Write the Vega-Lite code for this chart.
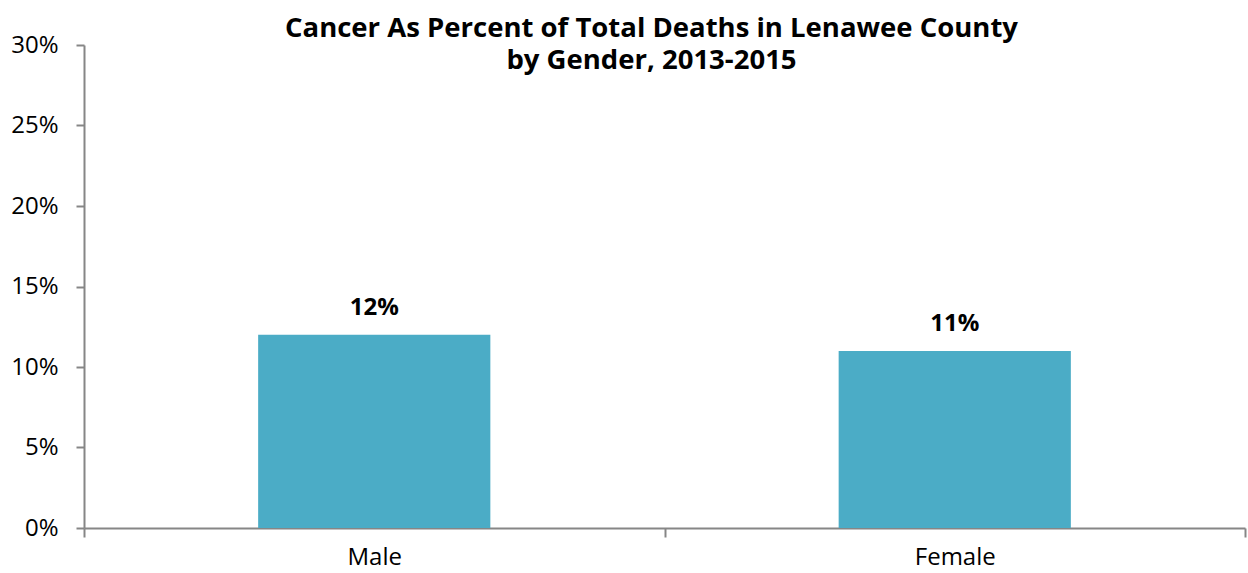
{
  "$schema": "https://vega.github.io/schema/vega-lite/v6.json",
  "width": 1161,
  "height": 483,
  "autosize": {"type": "none"},
  "padding": {"left": 84, "top": 45, "right": 3, "bottom": 45},
  "background": "white",
  "title": {
    "text": ["Cancer As Percent of Total Deaths in Lenawee County", "by Gender, 2013-2015"],
    "font": "Open Sans",
    "fontSize": 27.5,
    "fontWeight": "bold",
    "color": "#000000",
    "anchor": "middle",
    "dx": -13,
    "offset": -41,
    "lineHeight": 32
  },
  "data": {
    "values": [
      {"gender": "Male", "pct": 0.12},
      {"gender": "Female", "pct": 0.11}
    ]
  },
  "encoding": {
    "x": {
      "field": "gender",
      "type": "nominal",
      "sort": ["Male", "Female"],
      "scale": {"paddingInner": 0, "paddingOuter": 0},
      "axis": {
        "title": null,
        "labelAngle": 0,
        "labelFont": "Open Sans",
        "labelFontSize": 24,
        "labelColor": "#000000",
        "labelPadding": 8,
        "domainColor": "#868686",
        "domainWidth": 2,
        "tickColor": "#868686",
        "tickWidth": 2,
        "tickSize": 9,
        "tickBand": "extent"
      }
    },
    "y": {
      "field": "pct",
      "type": "quantitative",
      "scale": {"domain": [0, 0.3], "nice": false},
      "axis": {
        "title": null,
        "format": ".0%",
        "values": [0, 0.05, 0.1, 0.15, 0.2, 0.25, 0.3],
        "grid": false,
        "labelFont": "Open Sans",
        "labelFontSize": 24,
        "labelColor": "#000000",
        "labelPadding": 18,
        "domainColor": "#868686",
        "domainWidth": 2,
        "tickColor": "#868686",
        "tickWidth": 2,
        "tickSize": 8
      }
    }
  },
  "layer": [
    {"mark": {"type": "bar", "color": "#4BACC6", "width": {"band": 0.4}}},
    {
      "mark": {"type": "text", "dy": -27, "font": "Open Sans", "fontSize": 24, "fontWeight": "bold", "color": "#000000"},
      "encoding": {"text": {"field": "pct", "type": "quantitative", "format": ".0%"}}
    }
  ],
  "config": {"view": {"stroke": null}}
}
